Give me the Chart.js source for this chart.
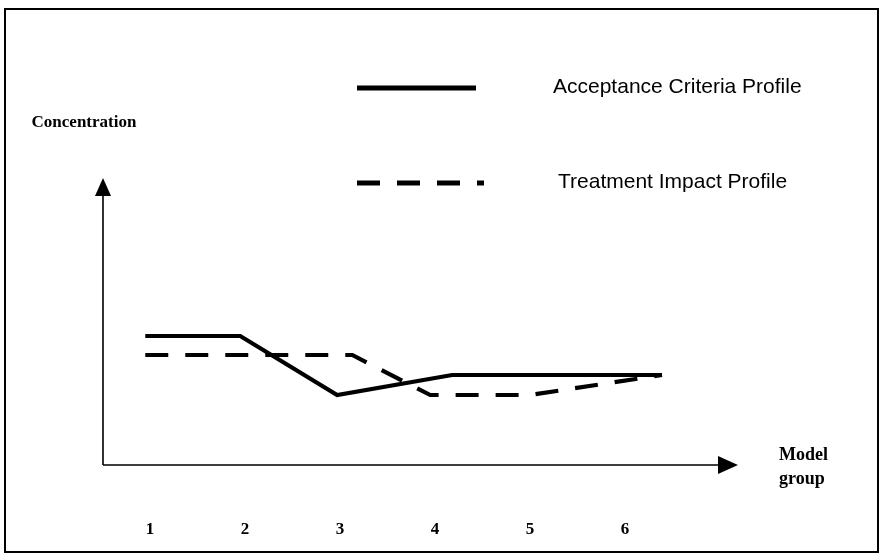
<!DOCTYPE html>
<html>
<head>
<meta charset="utf-8">
<script src="https://cdn.jsdelivr.net/npm/chart.js@4.4.1/dist/chart.umd.min.js"></script>
<style>
  html, body { margin: 0; padding: 0; background: #fff; }
  #wrap { width: 882px; height: 560px; position: relative; }
</style>
</head>
<body>
<div id="wrap"><canvas id="chart" width="882" height="560"></canvas></div>
<script>
// model group positions and concentration levels (schematic units)
const tickValues = [1, 2, 3, 4, 5, 6];
const tickLabels = ['1', '2', '3', '4', '5', '6'];

const acceptanceX = [0.95, 1.95, 2.97, 4.18, 6.39];
const acceptanceY = [12.9, 12.9, 7.0, 9.0, 9.0];

const treatmentX = [0.95, 3.13, 3.95, 5.0, 6.39];
const treatmentY = [11.0, 11.0, 7.0, 7.0, 9.0];

const seriesNames = ['Acceptance Criteria Profile', 'Treatment Impact Profile'];

const toPoints = (xs, ys) => xs.map((x, i) => ({ x: x, y: ys[i] }));

// frame, arrows, tick labels, titles and the hand-placed legend
const decorations = {
  id: 'decorations',
  afterDraw(chart) {
    const ctx = chart.ctx;
    const area = chart.chartArea;
    const xs = chart.scales.x;
    const x0 = area.left, y0 = area.bottom;
    ctx.save();
    ctx.strokeStyle = '#000';
    ctx.fillStyle = '#000';

    // outer frame
    ctx.lineWidth = 2;
    ctx.strokeRect(5, 9, 873, 543);

    // axes with arrow heads
    ctx.lineWidth = 1.6;
    ctx.beginPath();
    ctx.moveTo(x0, y0); ctx.lineTo(x0, area.top + 17);
    ctx.moveTo(x0, y0); ctx.lineTo(area.right - 19, y0);
    ctx.stroke();
    ctx.beginPath();
    ctx.moveTo(x0, area.top);
    ctx.lineTo(x0 - 8, area.top + 18);
    ctx.lineTo(x0 + 8, area.top + 18);
    ctx.closePath(); ctx.fill();
    ctx.beginPath();
    ctx.moveTo(area.right, y0);
    ctx.lineTo(area.right - 20, y0 - 9);
    ctx.lineTo(area.right - 20, y0 + 9);
    ctx.closePath(); ctx.fill();

    // tick labels under the x axis
    ctx.font = 'bold 17px "Liberation Serif", "Times New Roman", serif';
    ctx.textAlign = 'center';
    ctx.textBaseline = 'middle';
    tickValues.forEach((v, i) => {
      ctx.fillText(tickLabels[i], xs.getPixelForValue(v), 530);
    });

    // axis titles
    ctx.font = 'bold 17px "Liberation Serif", "Times New Roman", serif';
    ctx.textAlign = 'center';
    ctx.fillText('Concentration', 84, 123);
    ctx.font = 'bold 18px "Liberation Serif", "Times New Roman", serif';
    ctx.textAlign = 'left';
    ctx.fillText('Model', 779, 455);
    ctx.fillText('group', 779, 479);

    // legend
    const rows = [{ y: 88, tx: 553 }, { y: 183, tx: 558 }];
    chart.data.datasets.forEach((ds, i) => {
      const r = rows[i];
      ctx.beginPath();
      ctx.lineWidth = 5;
      ctx.lineCap = 'butt';
      ctx.setLineDash(ds.borderDash || []);
      ctx.moveTo(357, r.y);
      ctx.lineTo(i === 0 ? 476 : 484, r.y);
      ctx.stroke();
      ctx.setLineDash([]);
      ctx.font = '21px "Liberation Sans", Arial, sans-serif';
      ctx.textAlign = 'left';
      ctx.fillText(ds.label, r.tx, r.y - 1);
    });
    ctx.restore();
  }
};

new Chart(document.getElementById('chart'), {
  type: 'line',
  data: {
    datasets: [
      {
        label: seriesNames[0],
        data: toPoints(acceptanceX, acceptanceY),
        borderColor: '#000', borderWidth: 4.2,
        pointRadius: 0, tension: 0, fill: false
      },
      {
        label: seriesNames[1],
        data: toPoints(treatmentX, treatmentY),
        borderColor: '#000', borderWidth: 4.2, borderDash: [23, 17],
        pointRadius: 0, tension: 0, fill: false
      }
    ]
  },
  options: {
    responsive: false, animation: false,
    devicePixelRatio: 1,
    layout: { padding: { left: 103, right: 144, top: 178, bottom: 95 } },
    plugins: { legend: { display: false }, tooltip: { enabled: false } },
    scales: {
      x: { type: 'linear', min: 0.505, max: 7.19, display: false },
      y: { type: 'linear', min: 0, max: 28.7, display: false }
    }
  },
  plugins: [decorations]
});
</script>
</body>
</html>
